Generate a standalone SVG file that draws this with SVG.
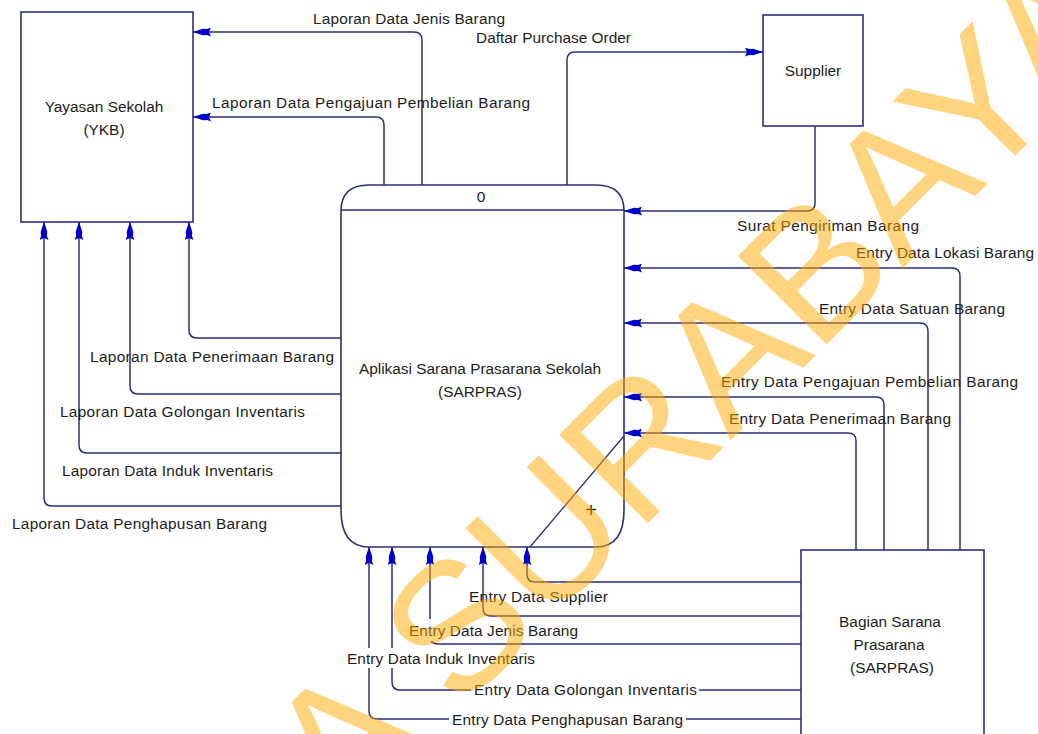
<svg xmlns="http://www.w3.org/2000/svg" width="1038" height="734" viewBox="0 0 1038 734">
<style>
.box{fill:#ffffff;stroke:#2e2e78;stroke-width:1.6}
.flow{fill:none;stroke:#2e2e78;stroke-width:1.5;marker-end:url(#arr)}
.plain{fill:none;stroke:#2e2e78;stroke-width:1.3}
text{font-family:"Liberation Sans",Arial,sans-serif;font-size:15.4px;fill:#1c1c1c}
.lbl{text-anchor:start}
.ctr{text-anchor:middle}
.bg{fill:#ffffff}
.wm{font-family:"Liberation Sans",Arial,sans-serif;font-size:182px;fill:#ffaa00;opacity:0.5}
</style>
<defs>
<marker id="arr" viewBox="0 0 18 9" refX="18" refY="4.5" markerWidth="18" markerHeight="9" markerUnits="userSpaceOnUse" orient="auto">
<path d="M18,4.5 L12,2.4 L8,1.2 L4,1.6 L0,0 L2,4.5 L0,9 L4,7.4 L8,7.8 L12,6.6 Z" fill="#0000cc"/>
</marker>
</defs>
<rect width="1038" height="734" fill="#ffffff"/>

<g id="yayasan">
<rect class="box" x="21" y="12" width="172" height="210"/>
<text class="ctr" x="104" y="112">Yayasan Sekolah</text>
<text class="ctr" x="104" y="135">(YKB)</text>
</g>

<g id="supplier">
<rect class="box" x="763" y="15" width="100" height="111"/>
<text class="ctr" x="813" y="76">Supplier</text>
</g>

<g id="bagian">
<rect class="box" x="801" y="550" width="183" height="200"/>
<text class="ctr" x="890" y="627">Bagian Sarana</text>
<text class="ctr" x="889" y="650">Prasarana</text>
<text class="ctr" x="892" y="673">(SARPRAS)</text>
</g>

<g id="process">
<path class="box" d="M369,185 H596 Q624,185 624,211 V510 Q624,547 596,547 H369 Q341,547 341,510 V211 Q341,185 369,185 Z"/>
<line class="plain" x1="341" y1="210" x2="624" y2="210"/>
<text class="ctr" x="481" y="202">0</text>
<text class="ctr" x="480" y="374">Aplikasi Sarana Prasarana Sekolah</text>
<text class="ctr" x="480" y="397">(SARPRAS)</text>
<text class="ctr" x="591" y="517" style="font-size:20px">+</text>
<line class="plain" x1="530" y1="547" x2="624" y2="436"/>
</g>

<g id="connectors">
<path class="flow" d="M422,185 V40 Q422,32 414,32 H193"/>
<path class="flow" d="M384,185 V125 Q384,117 376,117 H193"/>
<path class="flow" d="M567,185 V60 Q567,52 575,52 H763"/>
<path class="flow" d="M815,126 V203 Q815,211 807,211 H624"/>
<path class="flow" d="M960,550 V276 Q960,268 952,268 H624"/>
<path class="flow" d="M928,550 V331 Q928,323 920,323 H624"/>
<path class="flow" d="M884,550 V405 Q884,397 876,397 H624"/>
<path class="flow" d="M856,550 V441 Q856,433 848,433 H624"/>
<path class="flow" d="M341,338 H197 Q189,338 189,330 V222"/>
<path class="flow" d="M341,394 H138 Q130,394 130,386 V222"/>
<path class="flow" d="M341,453 H87 Q79,453 79,445 V222"/>
<path class="flow" d="M341,506 H52 Q44,506 44,498 V222"/>
<path class="flow" d="M801,582 H535 Q527,582 527,574 V547"/>
<path class="flow" d="M801,616 H491 Q483,616 483,608 V547"/>
<path class="flow" d="M801,644 H438 Q430,644 430,636 V547"/>
<path class="flow" d="M801,690 H400 Q392,690 392,682 V547"/>
<path class="flow" d="M801,719 H377 Q369,719 369,711 V547"/>
</g>

<g id="labels">
<text class="lbl" x="313" y="24" textLength="192">Laporan Data Jenis Barang</text>
<text class="lbl" x="476" y="43" textLength="155">Daftar Purchase Order</text>
<text class="lbl" x="212" y="108" textLength="318">Laporan Data Pengajuan Pembelian Barang</text>
<text class="lbl" x="737" y="231" textLength="182">Surat Pengiriman Barang</text>
<text class="lbl" x="856" y="258" textLength="178">Entry Data Lokasi Barang</text>
<text class="lbl" x="819" y="314" textLength="186">Entry Data Satuan Barang</text>
<text class="lbl" x="721" y="387" textLength="297">Entry Data Pengajuan Pembelian Barang</text>
<text class="lbl" x="729" y="424" textLength="222">Entry Data Penerimaan Barang</text>
<text class="lbl" x="90" y="362" textLength="244">Laporan Data Penerimaan Barang</text>
<text class="lbl" x="60" y="417" textLength="245">Laporan Data Golongan Inventaris</text>
<text class="lbl" x="62" y="476" textLength="211">Laporan Data Induk Inventaris</text>
<text class="lbl" x="12" y="529" textLength="255">Laporan Data Penghapusan Barang</text>
<text class="lbl" x="469" y="602" textLength="139">Entry Data Supplier</text>
<rect class="bg" x="407" y="619" width="173" height="22"/>
<text class="lbl" x="409" y="636" textLength="169">Entry Data Jenis Barang</text>
<rect class="bg" x="345" y="648" width="192" height="20"/>
<text class="lbl" x="347" y="664" textLength="188">Entry Data Induk Inventaris</text>
<rect class="bg" x="471" y="680" width="228" height="20"/>
<text class="lbl" x="474" y="695" textLength="223">Entry Data Golongan Inventaris</text>
<rect class="bg" x="449" y="709" width="237" height="20"/>
<text class="lbl" x="452" y="725" textLength="231">Entry Data Penghapusan Barang</text>
</g>

<g id="watermark">
<text class="wm" transform="translate(344,827) rotate(-45)">A SURABAYA</text>
</g>
</svg>
